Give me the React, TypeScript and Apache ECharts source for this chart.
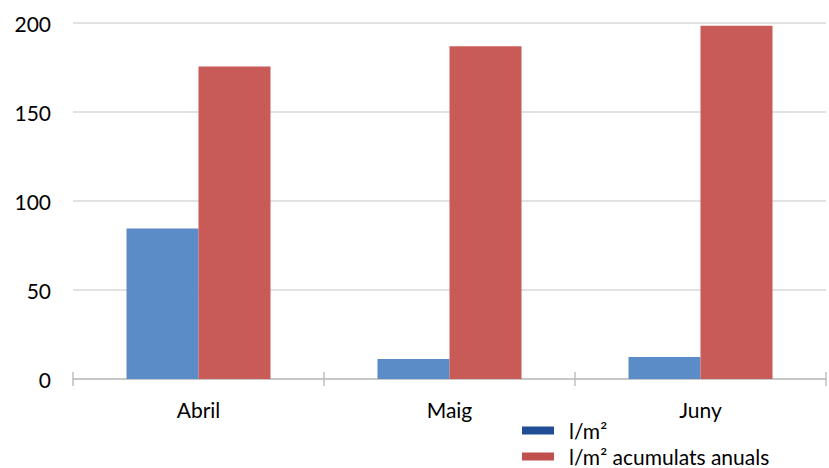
import React, { useEffect, useRef } from "react";
import * as echarts from "echarts";

const categories = ["Abril", "Maig", "Juny"];
const monthly = [84.5, 11.2, 12.4];
const accumulated = [175.5, 187, 198.5];
const seriesNames = ["l/m²", "l/m² acumulats anuals"];

export default function App() {
  const ref = useRef<HTMLDivElement>(null);
  useEffect(() => {
    const chart = echarts.init(ref.current!, undefined, { renderer: "svg" });
    const font = "Lato, 'Open Sans', sans-serif";
    const legendBase = {
      orient: "vertical",
      left: 522,
      padding: 0,
      itemWidth: 32,
      itemHeight: 8,
      icon: "rect",
      textStyle: {
        fontFamily: font,
        fontSize: 21,
        lineHeight: 21,
        color: "#000",
        padding: [0, 0, 0, 10],
      },
    };
    chart.setOption({
      animation: false,
      grid: { left: 73, right: 3, top: 23, bottom: 89, containLabel: false },
      legend: [
        { ...legendBase, top: 420, data: [{ name: seriesNames[0], itemStyle: { color: "#1F4E96" } }] },
        { ...legendBase, top: 446, data: [{ name: seriesNames[1], itemStyle: { color: "#C0504D" } }] },
      ],
      xAxis: [
        {
          type: "category",
          data: categories,
          axisLine: { lineStyle: { color: "#BFBFBF", width: 1.5 } },
          axisTick: { show: true, length: 7, lineStyle: { color: "#BFBFBF", width: 1.5 } },
          axisLabel: { fontFamily: font, fontSize: 21, color: "#000", margin: 20 },
        },
        {
          type: "category",
          data: categories,
          position: "bottom",
          axisLine: { show: false },
          axisTick: { show: true, inside: true, length: 7, lineStyle: { color: "#BFBFBF", width: 1.5 } },
          axisLabel: { show: false },
        },
      ],
      yAxis: {
        type: "value",
        min: 0,
        max: 200,
        interval: 50,
        axisLine: { show: false },
        axisTick: { show: false },
        splitLine: { lineStyle: { color: "#D9D9D9", width: 1.5 } },
        axisLabel: { fontFamily: font, fontSize: 21, color: "#000", margin: 22 },
      },
      series: [
        {
          name: seriesNames[0],
          type: "bar",
          data: monthly,
          barWidth: 72,
          barGap: "0%",
          itemStyle: { color: "#5B8CC8" },
        },
        {
          name: seriesNames[1],
          type: "bar",
          data: accumulated,
          barWidth: 72,
          barGap: "0%",
          itemStyle: { color: "#C85A57" },
        },
      ],
    });
    return () => chart.dispose();
  }, []);
  return (
    <div
      ref={ref}
      style={{ position: "fixed", left: 0, top: 0, width: 829, height: 468, background: "#fff" }}
    />
  );
}
